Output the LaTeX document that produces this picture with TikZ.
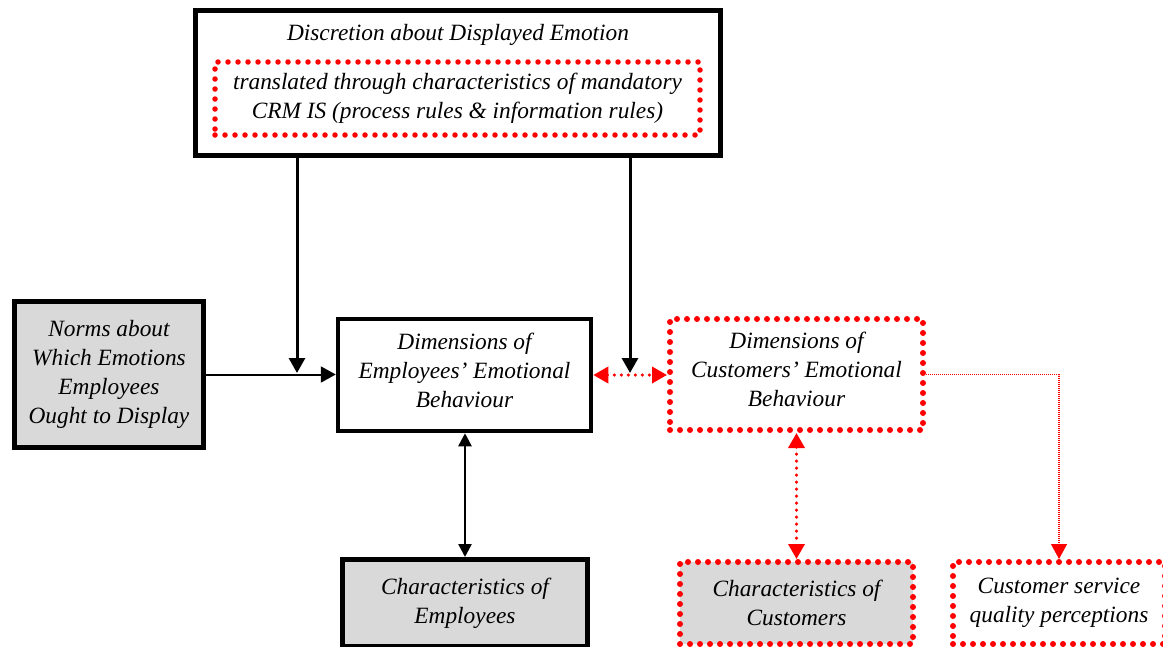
\documentclass[tikz,border=0pt]{standalone}
\usepackage{fontspec}
\setmainfont{Liberation Serif}
\usetikzlibrary{arrows.meta}
\newdimen\px \px=0.75pt
\begin{document}
\begin{tikzpicture}[x=0.75pt,y=-0.75pt,
  txt/.style={font=\fontsize{17.5}{21.75}\selectfont\itshape, align=center},
  blackbox/.style={draw=black, line width=5\px, inner sep=0pt},
  graybox/.style={fill=black!15},
  reddots/.style={draw=red, line width=6\px, line cap=round, dash pattern=on 0pt off 10\px, inner sep=0pt},
  tipb/.style={-{Triangle[length=11.25pt,width=12pt]}},
  blk/.style={draw=black, line width=3\px, tipb},
  reddotted/.style={draw=red, line width=3.5\px, line cap=round, dash pattern=on 0pt off 7\px,
    {Triangle[length=11.25pt,width=12pt,line cap=butt]}-{Triangle[length=11.25pt,width=12pt,line cap=butt]}},
]
\useasboundingbox (0,0) rectangle (1163,646);
\fill[white] (0,0) rectangle (1163,646);
\clip (0,0) rectangle (1163,646);

% top box
\node[blackbox, minimum width=525\px, minimum height=145\px] (top) at (458,83) {};
\node[txt] (title) at (458,35) {Discretion about Displayed Emotion};
\node[reddots, line width=5.5\px, minimum width=485\px, minimum height=73\px, txt] (crm) at (457.5,98.5)
  {translated through characteristics of mandatory\\CRM IS (process rules \& information rules)};

% norms
\node[blackbox, graybox, minimum width=189\px, minimum height=146\px, txt] (norms) at (109,374.5)
  {Norms about\\Which Emotions\\Employees\\Ought to Display};

% employees dimensions
\node[blackbox, line width=4.5\px, minimum width=253\px, minimum height=112\px, txt] (emp) at (464.5,375)
  {Dimensions of\\Employees’ Emotional\\Behaviour\vphantom{p}\\[-14pt]};

% customers dimensions
\node[reddots, minimum width=253\px, minimum height=111\px, txt] (cust) at (796.5,374.5)
  {Dimensions of\\Customers’ Emotional\\Behaviour\vphantom{p}\\[-14pt]};

% characteristics of employees
\node[blackbox, graybox, minimum width=245\px, minimum height=87\px, txt] (charemp) at (465,603)
  {Characteristics of\\Employees};

% characteristics of customers
\node[reddots, graybox, minimum width=233\px, minimum height=82\px, txt] (charcust) at (796.5,603)
  {Characteristics of\\Customers};

% customer service quality
\node[reddots, minimum width=212\px, minimum height=82\px, txt] (csq) at (1059,603)
  {Customer service\\quality perceptions};

% connectors
\coordinate (j1) at (297,373);
\coordinate (j2) at (630,373);
\draw[line width=2\px, tipb] (norms.east) -- (norms.east -| emp.west);
\draw[blk] (top.south -| j1) -- (j1);
\draw[reddotted] (emp.east) -- (emp.east -| cust.west);
\draw[blk] (top.south -| j2) -- (j2);
\draw[draw=black, line width=2.5\px, {Triangle[length=9.75pt,width=9.75pt]}-{Triangle[length=9.75pt,width=9.75pt]}]
  (emp.south -| charemp.north) -- (charemp.north);
\draw[reddotted] (cust.south -| charcust.north) -- (charcust.north);
\draw[red, line width=1.3\px, dash pattern=on 1\px off 1\px, -{Triangle[length=11.25pt,width=12pt]}]
  (cust.east) -| (csq.north);
\end{tikzpicture}
\end{document}
